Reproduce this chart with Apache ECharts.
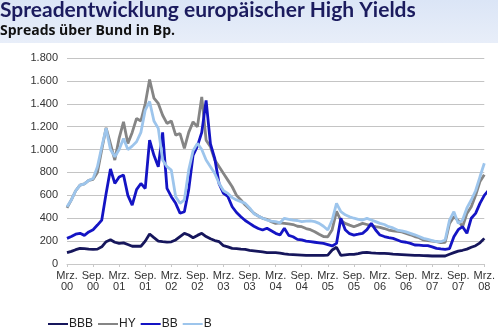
<!DOCTYPE html>
<html><head><meta charset="utf-8">
<script src="https://cdn.jsdelivr.net/npm/echarts@6/dist/echarts.min.js"></script>
<style>html,body{margin:0;padding:0;background:#fff}#c{width:498px;height:329px}</style>
</head><body><div id="c"></div>
<script>
// Monthly observations, March 2000 .. March 2008 (97 points)
const tickLabels = ['Mrz.\n00','Sep.\n00','Mrz.\n01','Sep.\n01','Mrz.\n02','Sep.\n02','Mrz.\n03','Sep.\n03','Mrz.\n04','Sep.\n04','Mrz.\n05','Sep.\n05','Mrz.\n06','Sep.\n06','Mrz.\n07','Sep.\n07','Mrz.\n08'];
const seriesNames = ['BBB','HY','BB','B'];
const BBB = [99,110,125,137,135,130,128,130,150,195,212,190,180,185,170,155,155,155,200,262,230,200,195,192,194,210,240,268,253,230,250,268,240,220,205,195,160,150,137,135,130,128,120,115,110,105,100,99,99,95,88,84,82,80,78,76,76,76,76,76,78,122,146,75,80,84,84,90,100,102,98,95,93,92,90,86,84,82,80,78,76,75,73,72,70,70,70,70,85,99,113,120,130,146,160,185,224];
const HY = [490,560,640,690,700,730,740,800,1000,1190,1050,908,1100,1242,1053,1150,1272,1250,1400,1612,1450,1403,1300,1228,1250,1126,1140,1010,1150,1242,1198,1460,1082,1024,908,850,791,733,675,600,559,515,480,443,420,399,390,370,355,360,355,350,345,330,326,310,300,282,260,240,238,300,460,380,355,340,326,340,355,345,335,326,320,310,297,290,285,280,268,255,240,230,210,205,200,195,186,190,355,413,380,326,442,500,600,720,780];
const BB = [224,240,260,268,250,280,300,340,384,617,830,704,760,777,600,515,650,704,660,1083,950,850,1150,660,588,530,443,457,650,950,1030,1150,1430,1050,920,700,617,590,500,450,413,380,355,330,310,297,312,290,268,253,312,250,238,215,210,200,195,190,185,180,170,158,180,400,300,265,253,260,268,300,355,297,253,240,230,224,210,195,190,180,166,165,160,160,150,137,132,128,135,238,300,326,268,400,442,530,600,646];
const B = [500,560,640,690,700,730,748,850,1024,1185,1000,937,1000,1097,1000,1030,1068,1150,1345,1420,1250,1185,908,850,820,588,530,560,820,990,1054,1000,908,850,791,704,640,617,580,559,545,530,490,440,420,400,384,375,370,360,399,390,384,380,370,375,377,370,355,330,297,384,530,457,430,413,400,390,384,399,385,370,355,345,326,315,297,290,280,268,255,240,224,215,205,195,195,210,384,457,355,384,490,559,640,762,880];
const colors = ['#16165c','#858585','#1414c4','#9dc5ec'];

const categories = BBB.map((_, i) => String(i));
const fmtY = v => v >= 1000 ? Math.floor(v/1000) + '.' + String(v % 1000).padStart(3,'0') : String(v);

const chart = echarts.init(document.getElementById('c'), null, {renderer:'canvas'});
const data = [BBB, HY, BB, B];
chart.setOption({
  animation:false,
  backgroundColor:'#ffffff',
  graphic:[
    {type:'rect', left:0, top:0, shape:{width:498, height:43}, style:{fill:new echarts.graphic.LinearGradient(0,0,0,1,[{offset:0,color:'#dbe5f6'},{offset:1,color:'#e8eef9'}])}, z:-1},
    {type:'text', left:0, top:0, style:{text:'Spreadentwicklung europäischer High Yields', font:'bold 21px Lato, "Open Sans", sans-serif', fill:'#1b1b5e'}},
    {type:'text', left:0, top:24, style:{text:'Spreads über Bund in Bp.', font:'bold 14px "Open Sans", "Noto Sans", sans-serif', fill:'#111111'}}
  ],
  grid:{left:67, right:10, top:58, bottom:65, containLabel:false},
  legend:{
    data:seriesNames, left:43, top:313, icon:'rect', itemWidth:20, itemHeight:2, itemGap:5,
    textStyle:{fontFamily:'Liberation Sans, Arial, sans-serif', fontSize:12, color:'#222', padding:[0,0,0,-4]}
  },
  xAxis:{
    type:'category', data:categories, boundaryGap:false,
    axisLine:{lineStyle:{color:'#c8c8c8'}},
    axisTick:{show:true, interval:5, length:3, lineStyle:{color:'#c8c8c8'}},
    axisLabel:{interval:5, color:'#333', fontFamily:'Liberation Sans, Arial, sans-serif', fontSize:11, lineHeight:11, margin:6,
      formatter:(v, i) => tickLabels[i/6] || ''}
  },
  yAxis:{
    type:'value', min:0, max:1800, interval:200,
    axisLine:{show:false}, axisTick:{show:false},
    splitLine:{lineStyle:{color:'#c4c4c4', width:1}},
    axisLabel:{color:'#333', fontFamily:'Liberation Sans, Arial, sans-serif', fontSize:11, margin:9, formatter:fmtY}
  },
  series: seriesNames.map((n, k) => ({
    name:n, type:'line', data:data[k], symbol:'none', smooth:false,
    lineStyle:{color:colors[k], width:2.8}, itemStyle:{color:colors[k]}
  }))
});
</script></body></html>
